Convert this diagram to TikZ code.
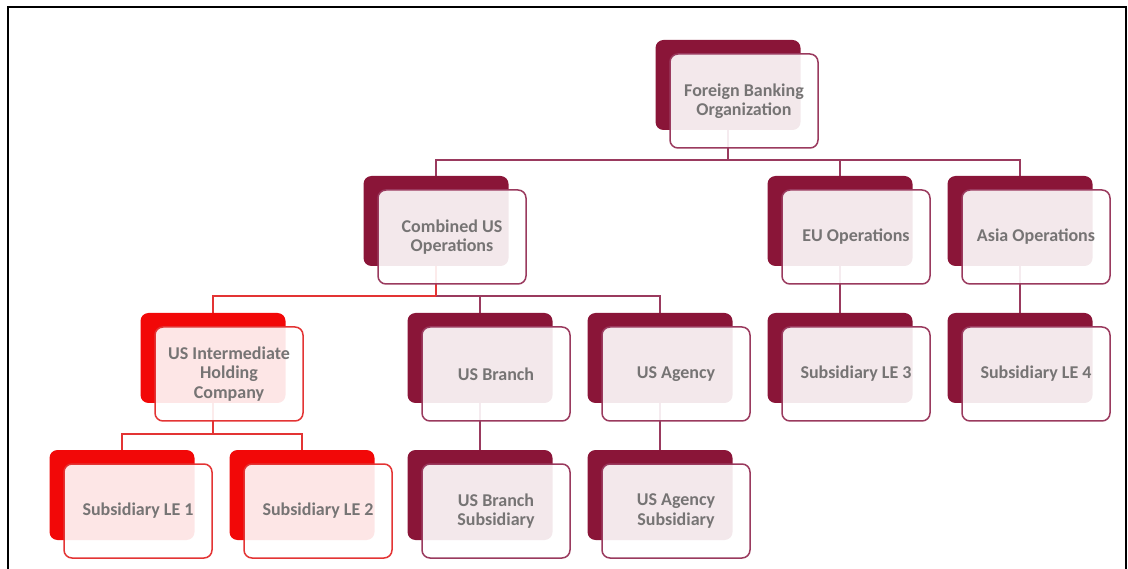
\documentclass[tikz,border=0pt]{standalone}
\usepackage{fontspec}
\setmainfont{Carlito}
\usetikzlibrary{positioning,calc,backgrounds}

\definecolor{wine}{HTML}{8A1538}
\definecolor{wineline}{HTML}{9A3A5E}
\definecolor{hotred}{HTML}{F20808}
\definecolor{redline}{HTML}{E33434}
\definecolor{txtgray}{HTML}{767474}

\begin{document}
\begin{tikzpicture}[
    x=1pt, y=-1pt,
    back/.style={rectangle, rounded corners=8pt, minimum width=145pt, minimum height=90pt, inner sep=0pt},
    front/.style={rectangle, rounded corners=8pt, draw, line width=1.5pt, fill=white, fill opacity=0.9, text opacity=1,
        minimum width=148pt, minimum height=94pt, inner sep=0pt, align=center, text=txtgray,
        font=\fontsize{18}{19.5}\selectfont\bfseries},
    link/.style={draw, line width=1.5pt, color=wineline},
    redlink/.style={draw, line width=1.5pt, color=redline}
]
\useasboundingbox (0,0) rectangle (1128,569);

% Outer frame (open at the bottom)
\draw[line width=2pt] (8,569) -- (8,7) -- (1126,7) -- (1126,569);

% Back boxes
\node[back, fill=wine] (fbob) at (728,85) {};
\node[back, fill=wine] (combb) at (436,221) {};
\node[back, fill=wine] (eub) at (840,221) {};
\node[back, fill=wine] (asiab) at (1020,221) {};
\node[back, fill=hotred] (ihcb) at (213,358) {};
\node[back, fill=wine] (brb) at (480,358) {};
\node[back, fill=wine] (agb) at (660,358) {};
\node[back, fill=wine] (le3b) at (840,358) {};
\node[back, fill=wine] (le4b) at (1020,358) {};
\node[back, fill=hotred] (le1b) at (122,495) {};
\node[back, fill=hotred] (le2b) at (302,495) {};
\node[back, fill=wine] (brsubb) at (480,495) {};
\node[back, fill=wine] (agsubb) at (660,495) {};

% Front boxes with labels
\node[front, draw=wineline] (fbo) at ($(fbob)+(16,16)$) {Foreign Banking\\Organization};
\node[front, draw=wineline] (comb) at ($(combb)+(16,16)$) {Combined US\\Operations};
\node[front, draw=wineline] (eu) at ($(eub)+(16,16)$) {EU Operations};
\node[front, draw=wineline] (asia) at ($(asiab)+(16,16)$) {Asia Operations};
\node[front, draw=redline] (ihc) at ($(ihcb)+(16,16)$) {US Intermediate\\Holding\\Company};
\node[front, draw=wineline] (br) at ($(brb)+(16,16)$) {US Branch};
\node[front, draw=wineline] (ag) at ($(agb)+(16,16)$) {US Agency};
\node[front, draw=wineline] (le3) at ($(le3b)+(16,16)$) {Subsidiary LE 3};
\node[front, draw=wineline] (le4) at ($(le4b)+(16,16)$) {Subsidiary LE 4};
\node[front, draw=redline] (le1) at ($(le1b)+(16,16)$) {Subsidiary LE 1};
\node[front, draw=redline] (le2) at ($(le2b)+(16,16)$) {Subsidiary LE 2};
\node[front, draw=wineline] (brsub) at ($(brsubb)+(16,16)$) {US Branch\\Subsidiary};
\node[front, draw=wineline] (agsub) at ($(agsubb)+(16,16)$) {US Agency\\Subsidiary};

% Bus points
\coordinate (fbobus) at (728,160);
\coordinate (combbus) at (436,296);
\coordinate (ihcbus) at (213,434);

% Connectors, behind the boxes
\begin{pgfonlayer}{background}
\draw[link] (fbob.south) -- (fbobus);
\draw[link] (fbobus) -| (combb.north);
\draw[link] (fbobus) -| (eub.north);
\draw[link] (fbobus) -| (asiab.north);
\draw[link] (combbus) -| (brb.north);
\draw[link] (combbus) -| (agb.north);
\draw[redlink] (combb.south) -- (combbus);
\draw[redlink] (combbus) -| (ihcb.north);
\draw[redlink] (ihcb.south) -- (ihcbus);
\draw[redlink] (ihcbus) -| (le1b.north);
\draw[redlink] (ihcbus) -| (le2b.north);
\draw[link] (eub.south) -- (le3b.north);
\draw[link] (asiab.south) -- (le4b.north);
\draw[link] (brb.south) -- (brsubb.north);
\draw[link] (agb.south) -- (agsubb.north);
\end{pgfonlayer}

\end{tikzpicture}
\end{document}
